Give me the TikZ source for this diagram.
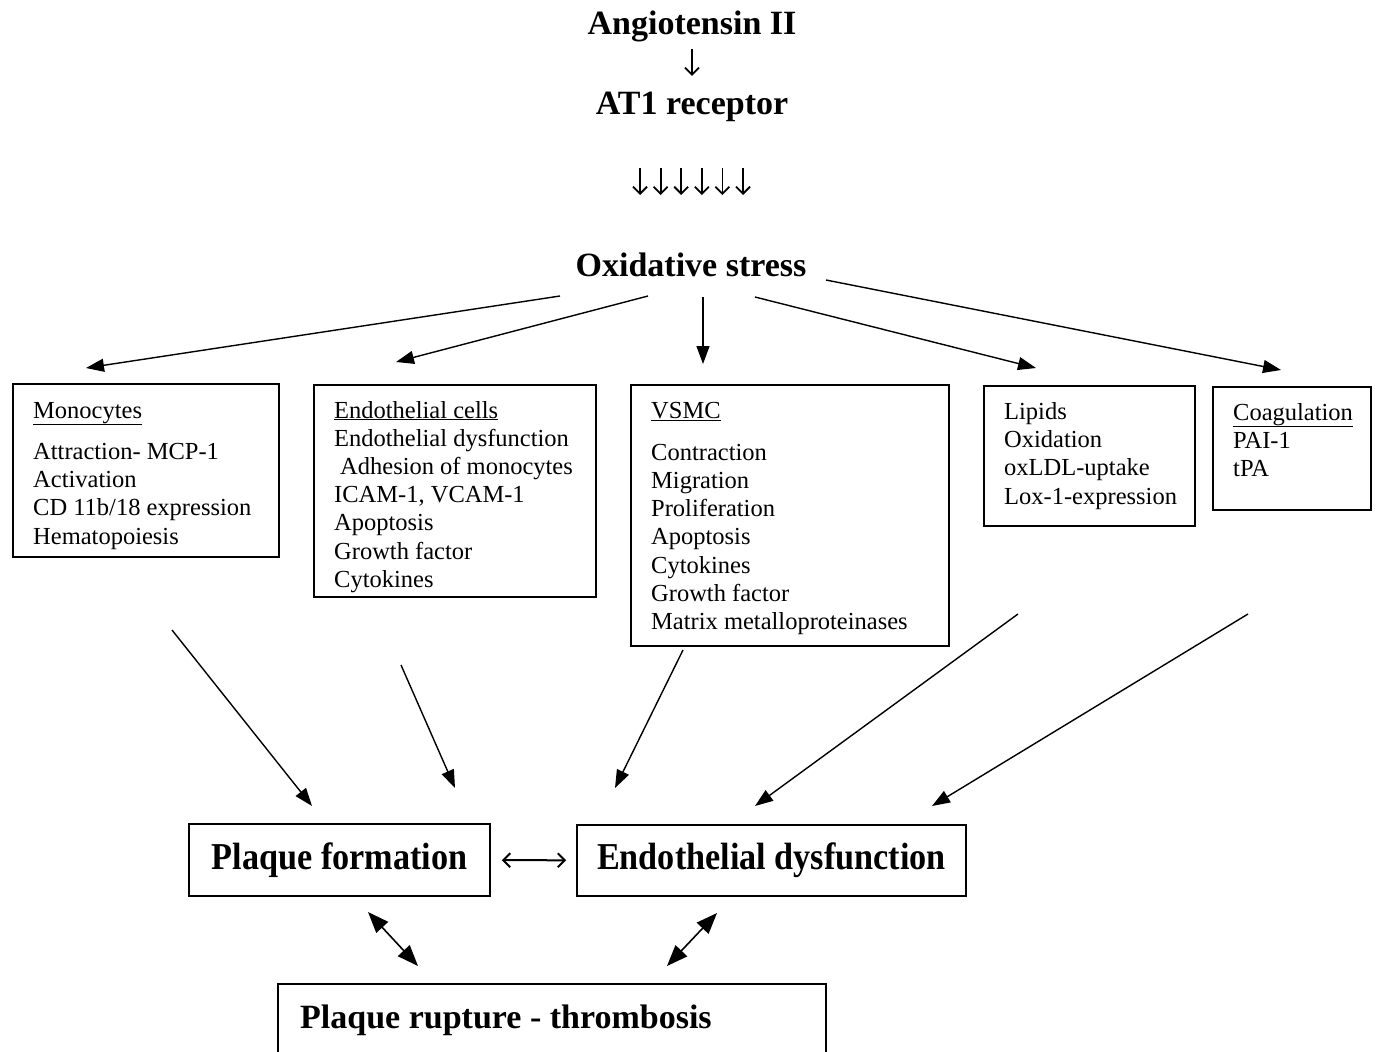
\documentclass[tikz,border=0pt]{standalone}
\usepackage{fontspec}
\setmainfont{Liberation Serif}
\newfontfamily\condfont[FakeStretch=0.9]{Liberation Serif}
\usetikzlibrary{arrows.meta}
\begin{document}
\begin{tikzpicture}[x=1pt,y=-1pt,
 box/.style={draw, line width=1.6pt, rectangle, inner sep=0pt},
 title/.style={font=\fontsize{34}{40}\selectfont\bfseries, inner sep=0pt},
 big/.style={font=\condfont\fontsize{38}{44}\selectfont\bfseries, inner sep=0pt},
 item/.style={font=\fontsize{24.5}{28}\selectfont, inner sep=0pt, anchor=base west},
 barb/.style={line width=1.8pt, -{Straight Barb[length=7pt,width=14pt]}},
 dbarb/.style={line width=2pt, {Straight Barb[length=7pt,width=14pt]}-{Straight Barb[length=7pt,width=14pt]}},
 tri/.style={line width=1.4pt, -{Triangle[length=18pt,width=13pt]}},
 dtri/.style={line width=1.6pt, {Triangle[length=21pt,width=16pt]}-{Triangle[length=21pt,width=16pt]}},
]
\useasboundingbox (0,0) rectangle (1377,1052);

% titles
\node[title] (ang) at (692,26) {Angiotensin II};
\node[title] (at1) at (692,107) {AT1 receptor};
\node[title] (ox) at (691,265) {Oxidative stress};
\draw[barb, shorten <=7pt, shorten >=16pt] (ang) -- (at1);

% six arrows
\foreach \k in {0,...,5} {
  \coordinate (sa\k) at (640+20.6*\k,168);
  \coordinate (se\k) at (640+20.6*\k,195);
  \draw[barb] (sa\k) -- (se\k);
}

% boxes
\node[box, anchor=north west, minimum width=266pt, minimum height=173pt] (mono) at (12,383) {};
\node[box, anchor=north west, minimum width=282pt, minimum height=212pt] (endo) at (313,384) {};
\node[box, anchor=north west, minimum width=318pt, minimum height=261pt] (vsmc) at (630,384) {};
\node[box, anchor=north west, minimum width=211pt, minimum height=140pt] (lip) at (983,385) {};
\node[box, anchor=north west, minimum width=158pt, minimum height=123pt] (coag) at (1212,386) {};

% box texts
\node[item] (mono-h) at (33,418) {\underline{Monocytes}};
\foreach \t [count=\i from 0] in {Attraction- MCP-1, Activation, CD 11b/18 expression, Hematopoiesis}
  \node[item] (mono-\i) at (33,459+28.4*\i) {\t};

\node[item] (endo-h) at (334,418) {\underline{Endothelial cells}};
\foreach \t [count=\i from 1] in {Endothelial dysfunction, {\hspace{6pt}Adhesion of monocytes}, {ICAM-1, VCAM-1}, Apoptosis, Growth factor, Cytokines}
  \node[item] (endo-\i) at (334,418+28.2*\i) {\t};

\node[item] (vsmc-h) at (651,418) {\underline{VSMC}};
\foreach \t [count=\i from 0] in {Contraction, Migration, Proliferation, Apoptosis, Cytokines, Growth factor, Matrix metalloproteinases}
  \node[item] (vsmc-\i) at (651,460+28.3*\i) {\t};

\foreach \t [count=\i from 0] in {Lipids, Oxidation, oxLDL-uptake, Lox-1-expression}
  \node[item] (lip-\i) at (1004,419+28.4*\i) {\t};

\node[item] (coag-h) at (1233,420) {\underline{Coagulation}};
\foreach \t [count=\i from 1] in {PAI-1, tPA}
  \node[item] (coag-\i) at (1233,420+28*\i) {\t};

% arrows from oxidative stress
\coordinate (o1) at (560,296); \coordinate (t1) at (86,368);
\coordinate (o2) at (648,296); \coordinate (t2) at (396,362);
\coordinate (o3) at (703,297); \coordinate (t3) at (703,364);
\coordinate (o4) at (755,297); \coordinate (t4) at (1036,368);
\coordinate (o5) at (826,280); \coordinate (t5) at (1281,370);
\foreach \k in {1,...,5} \draw[tri] (o\k) -- (t\k);

% bottom boxes
\node[box, big, minimum width=301pt, minimum height=72pt] (pf) at (339.5,860) {Plaque formation};
\node[box, big, minimum width=389pt, minimum height=71pt] (ed) at (771.5,860.5) {Endothelial dysfunction};
\node[box, anchor=north west, minimum width=548pt, minimum height=120pt] (rup) at (277,983) {};
\node[title, anchor=base west] (rup-t) at (300,1028) {Plaque rupture - thrombosis};

% lower arrows
\coordinate (b1) at (172,630); \coordinate (c1) at (312,806);
\coordinate (b2) at (401,665); \coordinate (c2) at (455,788);
\coordinate (b3) at (683,650); \coordinate (c3) at (615,788);
\coordinate (b4) at (1018,614); \coordinate (c4) at (755,806);
\coordinate (b5) at (1248,614); \coordinate (c5) at (932,806);
\foreach \k in {1,...,5} \draw[tri] (b\k) -- (c\k);

\draw[dbarb, shorten <=11pt, shorten >=10pt] (pf) -- (ed);

\coordinate (d1) at (368,912); \coordinate (e1) at (418,966);
\coordinate (d2) at (717,913); \coordinate (e2) at (667,966);
\draw[dtri] (d1) -- (e1);
\draw[dtri] (d2) -- (e2);
\end{tikzpicture}
\end{document}
